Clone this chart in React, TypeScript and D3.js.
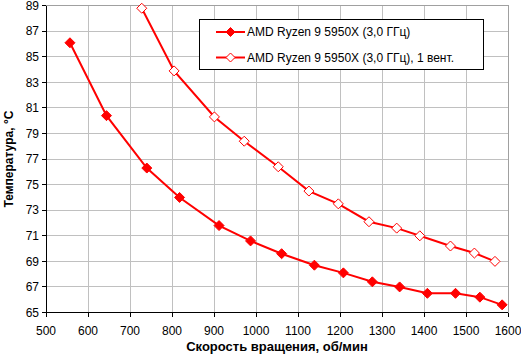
import React from "react";
import * as d3 from "d3";

const seriesNames = [
  "AMD Ryzen 9 5950X (3,0 ГГц)",
  "AMD Ryzen 9 5950X (3,0 ГГц), 1 вент.",
];
const rpm1 = [557, 644, 740, 818, 912, 987, 1061, 1139, 1208, 1277, 1342, 1408, 1475, 1533, 1586];
const temp1 = [86.1, 80.4, 76.3, 74.0, 71.8, 70.6, 69.6, 68.7, 68.1, 67.4, 67.0, 66.5, 66.5, 66.2, 65.6];
const rpm2 = [728, 805, 901, 972, 1053, 1126, 1196, 1269, 1335, 1390, 1463, 1520, 1569];
const temp2 = [88.8, 83.9, 80.3, 78.4, 76.4, 74.5, 73.5, 72.1, 71.6, 71.0, 70.2, 69.65, 69.0];
const xTicks = [500, 600, 700, 800, 900, 1000, 1100, 1200, 1300, 1400, 1500, 1600];
const yTicks = [65, 67, 69, 71, 73, 75, 77, 79, 81, 83, 85, 87, 89];
const xTitle = "Скорость вращения, об/мин";
const yTitle = "Температура, °C";

const W = 521;
const H = 355;
const L = 46, R = 508, T = 5.7, B = 312.5;
const RED = "#ff0000";
const FONT = "'Liberation Sans', Arial, sans-serif";

function Diamond({ x, y, filled, r }: { x: number; y: number; filled: boolean; r: number }) {
  const p = `M${x},${y - r}L${x + r},${y}L${x},${y + r}L${x - r},${y}Z`;
  return filled ? (
    <path d={p} fill={RED} stroke={RED} strokeWidth={1} />
  ) : (
    <path d={p} fill="#fff" stroke={RED} strokeWidth={1} />
  );
}

export default function App() {
  const x = d3.scaleLinear().domain([500, 1600]).range([L, R]);
  const y = d3.scaleLinear().domain([65, 89]).range([B, T]);
  const line = d3
    .line<[number, number]>()
    .x((d) => x(d[0]))
    .y((d) => y(d[1]))
    .curve(d3.curveLinear);
  const s1: [number, number][] = rpm1.map((v, i) => [v, temp1[i]]);
  const s2: [number, number][] = rpm2.map((v, i) => [v, temp2[i]]);

  return (
    <svg
      width={W}
      height={H}
      style={{ position: "absolute", left: 0, top: 0, background: "#fff" }}
      fontFamily={FONT}
    >
      <rect x={0} y={0} width={W} height={H} fill="#fff" />
      {xTicks.map((t) => (
        <line key={"gx" + t} x1={x(t)} x2={x(t)} y1={T} y2={B} stroke="#c0c0c0" strokeWidth={1} shapeRendering="crispEdges" />
      ))}
      {yTicks.map((t) => (
        <line key={"gy" + t} x1={L} x2={R} y1={y(t)} y2={y(t)} stroke="#c0c0c0" strokeWidth={1} shapeRendering="crispEdges" />
      ))}
      <rect x={L} y={T} width={R - L} height={B - T} fill="none" stroke="#a0a0a0" strokeWidth={1} shapeRendering="crispEdges" />
      <line x1={L} x2={L} y1={T} y2={B} stroke="#000" strokeWidth={1} shapeRendering="crispEdges" />
      <line x1={L} x2={R} y1={B} y2={B} stroke="#000" strokeWidth={1} shapeRendering="crispEdges" />
      {yTicks.map((t) => (
        <g key={"ty" + t}>
          <line x1={L - 4} x2={L} y1={y(t)} y2={y(t)} stroke="#000" shapeRendering="crispEdges" />
          <text x={L - 7} y={y(t)} dy="0.35em" textAnchor="end" fontSize={12}>
            {t}
          </text>
        </g>
      ))}
      {xTicks.map((t) => (
        <g key={"tx" + t}>
          <line x1={x(t)} x2={x(t)} y1={B} y2={B + 4} stroke="#000" shapeRendering="crispEdges" />
          <text x={x(t)} y={B + 18} dy="0.35em" textAnchor="middle" fontSize={12}>
            {t}
          </text>
        </g>
      ))}
      <text x={(L + R) / 2} y={351} textAnchor="middle" fontSize={13} fontWeight="bold">
        {xTitle}
      </text>
      <text
        transform={`translate(13,${(T + B) / 2}) rotate(-90)`}
        textAnchor="middle"
        fontSize={12}
        fontWeight="bold"
      >
        {yTitle}
      </text>
      <path d={line(s1) || ""} fill="none" stroke={RED} strokeWidth={2} />
      <path d={line(s2) || ""} fill="none" stroke={RED} strokeWidth={2} />
      {s1.map((d, i) => (
        <Diamond key={"m1" + i} x={x(d[0])} y={y(d[1])} filled r={5} />
      ))}
      {s2.map((d, i) => (
        <Diamond key={"m2" + i} x={x(d[0])} y={y(d[1])} filled={false} r={5} />
      ))}
      <rect x={199.5} y={19.5} width={284} height={50} fill="#fff" stroke="#000" strokeWidth={1} shapeRendering="crispEdges" />
      {seriesNames.map((n, i) => {
        const ly = 32 + i * 25.5;
        return (
          <g key={"lg" + i}>
            <line x1={216} x2={245} y1={ly} y2={ly} stroke={RED} strokeWidth={2} />
            <Diamond x={230.5} y={ly} filled={i === 0} r={4.5} />
            <text x={247} y={ly} dy="0.35em" fontSize={12}>
              {n}
            </text>
          </g>
        );
      })}
    </svg>
  );
}
